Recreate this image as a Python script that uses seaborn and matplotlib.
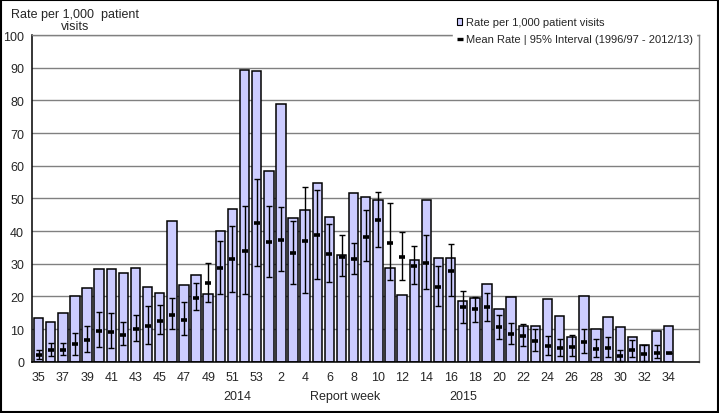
import numpy as np
import pandas as pd
import matplotlib
matplotlib.use("Agg")
import matplotlib.pyplot as plt
import seaborn as sns
from matplotlib.patches import Patch, Rectangle
from matplotlib.lines import Line2D

# report weeks 2014/15 season
weeks = [str(w) for w in range(35, 54)] + [str(w) for w in range(1, 35)]

# Rate per 1,000 patient visits (current season)
rate = [13.3, 12.1, 14.8, 20.0, 22.5, 28.3, 28.3, 27.1, 28.6, 22.8,
        21.0, 43.0, 23.4, 26.5, 20.7, 40.0, 46.7, 89.4, 89.1,
        58.3, 78.8, 44.0, 46.4, 54.6, 44.2, 32.6, 51.5, 50.3, 49.4,
        28.6, 20.3, 31.1, 49.4, 31.7, 31.7, 18.5, 19.4, 23.7, 16.1,
        19.7, 10.8, 10.8, 19.1, 13.9, 7.5, 20.0, 9.9, 13.6, 10.5,
        7.5, 5.0, 9.3, 10.8]

# Mean rate 1996/97 - 2012/13 with 95% interval
mean_rate = [2.1, 3.7, 3.7, 5.5, 6.7, 9.5, 9.2, 8.3, 10.1, 11.0,
             12.6, 14.4, 12.9, 19.6, 24.2, 28.8, 31.3, 33.9, 42.6,
             36.7, 37.2, 33.4, 36.9, 38.9, 33.1, 32.2, 31.5, 38.3, 43.5,
             36.4, 32.1, 29.4, 30.3, 23.0, 27.9, 16.6, 16.1, 16.6, 10.5,
             8.6, 8.0, 6.4, 4.9, 4.3, 4.6, 6.1, 4.0, 4.3, 1.8,
             3.7, 2.5, 2.8, 2.8]
ci_low = [0.7, 1.6, 2.0, 2.2, 2.9, 4.4, 4.1, 5.1, 6.2, 5.3,
          8.4, 9.9, 8.1, 15.7, 18.2, 20.7, 21.3, 20.6, 29.2,
          25.8, 27.7, 23.7, 20.9, 25.2, 24.3, 26.1, 26.7, 30.7, 35.0,
          24.9, 25.0, 23.7, 22.2, 17.0, 20.0, 11.8, 12.1, 12.4, 6.9,
          5.4, 4.8, 3.2, 2.2, 1.6, 1.6, 2.6, 1.3, 1.3, 0.3,
          1.3, 0.3, 1.0, 2.8]
ci_high = [3.7, 5.6, 5.6, 8.7, 10.8, 15.1, 14.8, 12.1, 14.2, 17.0,
           17.3, 19.4, 18.2, 24.0, 30.2, 36.9, 41.5, 47.6, 55.9,
           47.6, 47.3, 43.0, 53.5, 52.6, 42.1, 38.7, 36.2, 46.3, 51.9,
           48.5, 39.7, 35.3, 38.8, 29.2, 36.1, 21.6, 19.9, 20.9, 14.2,
           11.8, 11.5, 10.1, 7.8, 6.9, 8.1, 9.9, 6.9, 7.5, 3.7,
           6.5, 5.0, 5.0, 2.8]

# two empty slots at the end of the axis
order = weeks + ["", " "]

df = pd.DataFrame({"week": weeks, "rate": rate, "mean": mean_rate,
                   "low": ci_low, "high": ci_high})

sns.set_style("white")
plt.rcParams["font.family"] = ["Liberation Sans", "DejaVu Sans"]

fig = plt.figure(figsize=(7.19, 4.14), dpi=100)
ax = fig.add_axes([0.0452, 0.1239, 0.9270, 0.7891])

sns.barplot(data=df, x="week", y="rate", order=order, color="#CCCCFF",
            saturation=1, edgecolor="black", linewidth=1.1, width=0.78, ax=ax)

xpos = np.arange(len(weeks))
err = [df["mean"] - df["low"], df["high"] - df["mean"]]
ax.errorbar(xpos, df["mean"], yerr=err, fmt="none", ecolor="black",
            elinewidth=1.0, capsize=2.5, capthick=1.0, zorder=4)
ax.plot(xpos, df["mean"], linestyle="none", marker="_", markersize=5,
        markeredgewidth=2.6, color="black", zorder=5)

ax.set_ylim(0, 100)
ax.set_xlim(-0.5, len(order) - 0.5)
ax.set_yticks(range(0, 101, 10))
ax.yaxis.grid(True, color="#808080", linewidth=1.0)
ax.set_axisbelow(True)

ax.set_xticks(xpos[::2])
ax.set_xticklabels(weeks[::2])
ax.set_xticks(np.arange(-0.5, len(order), 1.0), minor=True)
ax.tick_params(axis="x", which="major", length=0, pad=7, labelsize=9)
ax.tick_params(axis="x", which="minor", length=4, width=1, color="black",
               direction="out")
ax.tick_params(axis="y", length=4, width=1, color="black", direction="out",
               labelsize=9, pad=2)
ax.set_xlabel("")
ax.set_ylabel("")

for side in ["left", "bottom"]:
    ax.spines[side].set_color("black")
    ax.spines[side].set_linewidth(1.1)
for side in ["top", "right"]:
    ax.spines[side].set_color("#808080")
    ax.spines[side].set_linewidth(1.0)

fig.text(0.104, 0.950, "Rate per 1,000  patient\nvisits", ha="center",
         va="center", fontsize=9, linespacing=1.0)
fig.text(0.330, 0.040, "2014", ha="center", va="center", fontsize=9)
fig.text(0.480, 0.040, "Report week", ha="center", va="center", fontsize=9)
fig.text(0.644, 0.040, "2015", ha="center", va="center", fontsize=9)

handles = [Patch(facecolor="#CCCCFF", edgecolor="black", linewidth=0.8),
           Line2D([], [], linestyle="none", marker="_", markersize=4,
                  markeredgewidth=2.4, color="black")]
leg = fig.legend(handles, ["Rate per 1,000 patient visits",
                           "Mean Rate | 95% Interval (1996/97 - 2012/13)"],
                 loc="upper left", bbox_to_anchor=(0.623, 0.977), fontsize=8,
                 frameon=True, fancybox=False, handlelength=0.5,
                 handleheight=0.5, handletextpad=0.3, labelspacing=0.6,
                 borderpad=0.3)
leg.get_frame().set_edgecolor("white")
leg.get_frame().set_facecolor("white")
leg.get_frame().set_alpha(1)
leg.set_zorder(10)

fig.patches.append(Rectangle((0.001, 0.002), 0.997, 0.996, transform=fig.transFigure,
                             fill=False, edgecolor="black", linewidth=1.5))

fig.savefig("out.png", dpi=100)
